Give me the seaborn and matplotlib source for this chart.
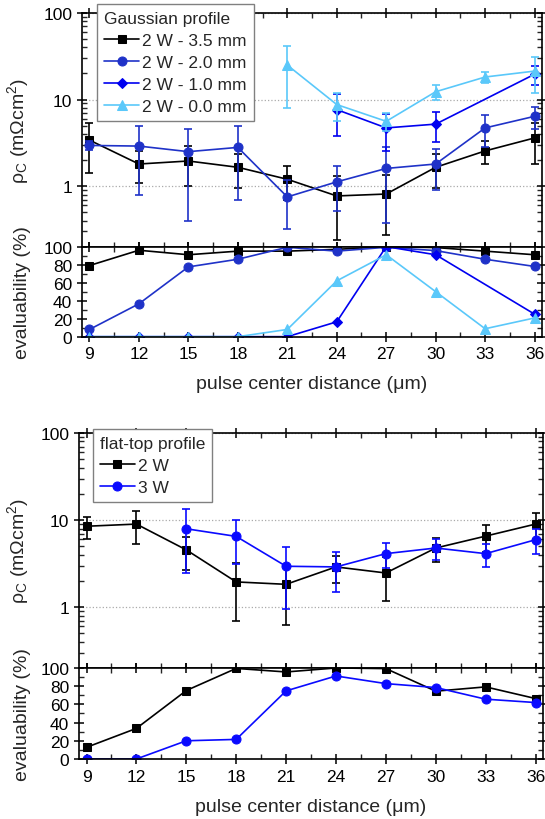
import numpy as np
import seaborn as sns
import matplotlib.pyplot as plt
from matplotlib.ticker import FixedLocator, MultipleLocator, LogLocator, NullFormatter

sns.set_theme(style='ticks')
plt.rcParams['font.family'] = ['Liberation Sans', 'DejaVu Sans']
plt.rcParams['mathtext.default'] = 'regular'

#pulse center distance (um)
dist = [9, 12, 15, 18, 21, 24, 27, 30, 33, 36]

#Gaussian profile, contact resistivity (mOhm cm2) with error
g35_rho = [3.4, 1.8, 1.95, 1.65, 1.2, 0.77, 0.81, 1.65, 2.55, 3.6]
g35_err = [2.0, 0.72, 0.95, 0.7, 0.5, 0.53, 0.54, 0.7, 0.75, 1.8]
g20_rho = [2.95, 2.9, 2.5, 2.8, 0.75, 1.12, 1.6, 1.8, 4.7, 6.4]
g20_err = [0.35, 2.1, 2.1, 2.1, 0.43, 0.6, 1.22, 0.9, 1.9, 1.8]
g10_x = [24, 27, 30, 36]
g10_rho = [7.65, 4.7, 5.2, 19.6]
g10_err = [3.9, 2.15, 2.0, 4.8]
g00_x = [21, 24, 27, 30, 33, 36]
g00_rho = [25, 8.75, 5.6, 12.3, 18.2, 21.3]
g00_err = [17, 3.1, 1.3, 2.3, 2.6, 9.5]

#Gaussian profile, evaluability (%)
g35_ev = [79, 96, 91, 95, 95, 97, 100, 99, 95, 91]
g20_ev = [8, 36.5, 77.5, 86, 99.3, 95, 99.3, 95.6, 86, 78]
g10_ev_x = [9, 12, 15, 18, 21, 24, 27, 30, 36]
g10_ev = [0, 0, 0, 0, 0, 16.5, 100, 91, 25]
g00_ev = [0, 0, 0, 0, 8, 62, 91, 50, 8.8, 20.8]

#flat-top profile
ft2_rho = [8.5, 9.0, 4.55, 1.95, 1.83, 2.9, 2.47, 4.78, 6.55, 9.0]
ft2_err = [2.4, 3.7, 1.9, 1.25, 1.2, 1.0, 1.3, 1.5, 2.2, 3.0]
ft3_x = [15, 18, 21, 24, 27, 30, 33, 36]
ft3_rho = [7.95, 6.5, 2.95, 2.9, 4.12, 4.78, 4.12, 5.95]
ft3_err = [5.5, 3.4, 2.0, 1.4, 1.3, 1.3, 1.2, 1.9]
ft2_ev = [12.8, 33.6, 75.2, 99.5, 95.6, 100, 99.3, 74.5, 79.2, 66.4]
ft3_ev = [0, 0, 20, 21.5, 74.8, 91.2, 82.8, 78.5, 65.7, 62]

c_blk = '#000000'
c_20 = '#1f32c8'
c_10 = '#0000f0'
c_00 = '#5ac8fa'
c_3w = '#0a0aff'
fs = 12.5
fs_lab = 14

def series(ax, x, y, color, marker, ms, err=None, label=None):
    if err is not None:
        ax.errorbar(x, y, yerr=err, fmt='none', ecolor=color, elinewidth=1.2,
                    capsize=3, capthick=1.2)
    sns.lineplot(x=x, y=y, ax=ax, color=color, marker=marker, markersize=ms,
                 markeredgecolor=color, linewidth=1.2, label=label,
                 legend=label is not None, sort=False)

def style_top(ax, left_anchor):
    ax.set_yscale('log')
    ax.set_ylim(0.2, 100)
    ax.set_xlim(8.55, 36.45)
    ax.yaxis.set_major_locator(FixedLocator([1, 10, 100]))
    ax.set_yticklabels(['1', '10', '100'])
    ax.yaxis.set_minor_locator(LogLocator(base=10, subs=np.arange(2, 10)))
    ax.yaxis.set_minor_formatter(NullFormatter())
    ax.xaxis.set_major_locator(MultipleLocator(3))
    ax.xaxis.set_minor_locator(MultipleLocator(1.5))
    ax.yaxis.grid(True, which='major', ls=':', color='#aaaaaa', lw=0.9)
    ax.set_ylabel('ρ$_\\mathregular{C}$ (mΩcm$^\\mathregular{2}$)', fontsize=fs_lab)
    ax.yaxis.set_label_coords(left_anchor, 0.5)

def style_bot(ax, left_anchor):
    ax.set_ylim(0, 100)
    ax.set_xlim(8.55, 36.45)
    ax.yaxis.set_major_locator(MultipleLocator(20))
    ax.yaxis.set_minor_locator(MultipleLocator(10))
    ax.xaxis.set_minor_locator(MultipleLocator(1.5))
    ax.set_xticks(dist)
    ax.set_ylabel('evaluability (%)', fontsize=fs_lab)
    ax.yaxis.set_label_coords(left_anchor, 0.5)
    ax.set_xlabel('pulse center distance (μm)', fontsize=fs_lab, labelpad=10)

def frame(ax):
    for s in ax.spines.values():
        s.set_linewidth(1.2)
        s.set_color('black')
    ax.tick_params(which='major', direction='inout', length=7, width=1.1,
                   top=True, right=True, labelsize=fs, colors='black')
    ax.tick_params(which='minor', direction='in', length=3.5, width=1,
                   top=True, right=True)

def add_legend(ax, title, anchor):
    leg = ax.legend(title=title, loc='upper left', bbox_to_anchor=anchor,
                    borderaxespad=0, fontsize=fs, title_fontsize=fs, alignment='left',
                    frameon=True, fancybox=False, edgecolor='#808080', framealpha=1,
                    handlelength=2.0, handletextpad=0.2, labelspacing=0.4, borderpad=0.4)
    leg.get_frame().set_linewidth(1.0)

fig = plt.figure(figsize=(5.45, 8.2), dpi=100)
ax1 = fig.add_axes([0.1505, 0.6980, 0.8440, 0.2850])
ax2 = fig.add_axes([0.1505, 0.5882, 0.8440, 0.1098])
ax3 = fig.add_axes([0.1450, 0.1841, 0.8514, 0.2866])
ax4 = fig.add_axes([0.1450, 0.0732, 0.8514, 0.1110])

#Gaussian profile
series(ax1, dist, g35_rho, c_blk, 's', 6, g35_err, '2 W - 3.5 mm')
series(ax1, dist, g20_rho, c_20, 'o', 6.5, g20_err, '2 W - 2.0 mm')
series(ax1, g10_x, g10_rho, c_10, 'D', 5.5, g10_err, '2 W - 1.0 mm')
series(ax1, g00_x, g00_rho, c_00, '^', 6.5, g00_err, '2 W - 0.0 mm')
style_top(ax1, -0.111)
add_legend(ax1, 'Gaussian profile', (0.033, 1.039))

series(ax2, dist, g35_ev, c_blk, 's', 6)
series(ax2, dist, g20_ev, c_20, 'o', 6.5)
series(ax2, g10_ev_x, g10_ev, c_10, 'D', 5.5)
series(ax2, dist, g00_ev, c_00, '^', 6.5)
style_bot(ax2, -0.111)

#flat-top profile
series(ax3, dist, ft2_rho, c_blk, 's', 6, ft2_err, '2 W')
series(ax3, ft3_x, ft3_rho, c_3w, 'o', 6.5, ft3_err, '3 W')
style_top(ax3, -0.103)
add_legend(ax3, 'flat-top profile', (0.030, 1.017))

series(ax4, dist, ft2_ev, c_blk, 's', 6)
series(ax4, dist, ft3_ev, c_3w, 'o', 6.5)
style_bot(ax4, -0.103)

for ax in [ax1, ax2, ax3, ax4]:
    frame(ax)
ax1.tick_params(labelbottom=False)
ax3.tick_params(labelbottom=False)

plt.savefig('out.png', dpi=100)
